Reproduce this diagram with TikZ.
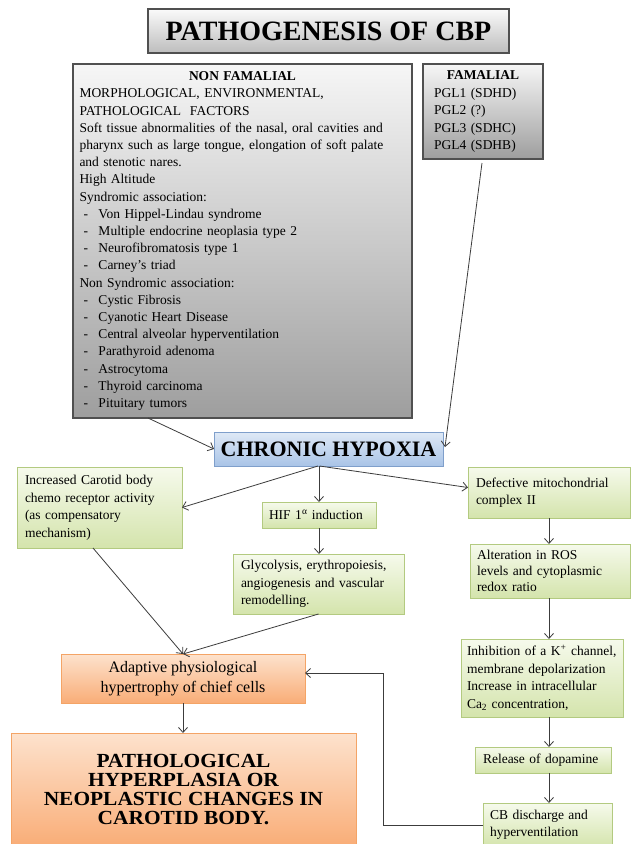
\documentclass[tikz,border=0pt]{standalone}
\usepackage{fontspec}
\setmainfont{Liberation Serif}
\newfontfamily\widefont[FakeStretch=1.07]{Liberation Serif}
\usetikzlibrary{arrows.meta,calc}
\definecolor{graytop}{HTML}{F6F6F6}
\definecolor{graybot}{HTML}{9E9E9E}
\definecolor{grayedge}{HTML}{505050}
\definecolor{titletop}{HTML}{FAFAFA}
\definecolor{titlebot}{HTML}{BDBDBD}
\definecolor{bluetop}{HTML}{DFE9F6}
\definecolor{bluebot}{HTML}{A9C4E7}
\definecolor{blueedge}{HTML}{7F9FCB}
\definecolor{greentop}{HTML}{F6FAEC}
\definecolor{greenbot}{HTML}{D4E4AC}
\definecolor{greenedge}{HTML}{B3CA80}
\definecolor{orangetop}{HTML}{FDE2CD}
\definecolor{orangebot}{HTML}{F9AD77}
\definecolor{orangeedge}{HTML}{F4A466}
\definecolor{arrowcol}{HTML}{3C3C3C}
\newcommand\ditem{\makebox[19pt][l]{\hspace{4pt}-}}
\begin{document}
\begin{tikzpicture}[x=1pt,y=-1pt,
  box/.style={draw, line width=0.8pt, outer sep=0pt, inner ysep=0pt},
  graybox/.style={box, draw=grayedge, line width=1.2pt, top color=graytop, bottom color=graybot,
    align=left, font=\fontsize{13.5}{17.2}\selectfont},
  titlebox/.style={box, draw=grayedge, line width=1.5pt, top color=titletop, bottom color=titlebot,
    font=\fontsize{28}{30}\selectfont\bfseries},
  bluebox/.style={box, draw=blueedge, top color=bluetop, bottom color=bluebot,
    font=\fontsize{22}{24}\selectfont\bfseries},
  greenbox/.style={box, draw=greenedge, top color=greentop, bottom color=greenbot,
    align=left, font=\fontsize{13.5}{17.5}\selectfont},
  orangebox/.style={box, draw=orangeedge, top color=orangetop, bottom color=orangebot, align=center},
  arr/.style={draw=arrowcol, line width=0.8pt, -{Straight Barb[length=5pt,width=9pt]}}
]
\path[use as bounding box] (0,0) rectangle (632,844);
\clip (0,0) rectangle (632,844);
\fill[white] (0,0) rectangle (632,844);

\node[titlebox, minimum width=361pt, minimum height=44pt] (title) at (328.5,31) {PATHOGENESIS OF CBP};

\node[graybox, minimum width=339pt, minimum height=354pt, text width=326pt, inner xsep=6.5pt] (nonfam) at (242.5,241) {%
\makebox[326pt]{\bfseries NON FAMALIAL}\\
\makebox[258pt][s]{MORPHOLOGICAL, ENVIRONMENTAL,}\\
PATHOLOGICAL\ \ FACTORS\\
\makebox[326pt][s]{Soft tissue abnormalities of the nasal, oral cavities and}\\
\makebox[326pt][s]{pharynx such as large tongue, elongation of soft palate}\\
and stenotic nares.\\
High Altitude\\
Syndromic association:\\
\ditem Von Hippel-Lindau syndrome\\
\ditem Multiple endocrine neoplasia type 2\\
\ditem Neurofibromatosis type 1\\
\ditem Carney's triad\\
Non Syndromic association:\\
\ditem Cystic Fibrosis\\
\ditem Cyanotic Heart Disease\\
\ditem Central alveolar hyperventilation\\
\ditem Parathyroid adenoma\\
\ditem Astrocytoma\\
\ditem Thyroid carcinoma\\
\ditem Pituitary tumors};

\node[graybox, minimum width=120pt, minimum height=95pt, text width=98pt, inner xsep=11pt,
  font=\fontsize{13.5}{17.5}\selectfont] (fam) at (483,111.5) {%
\makebox[98pt]{\bfseries FAMALIAL}\\
PGL1 (SDHD)\\
PGL2 (?)\\
PGL3 (SDHC)\\
PGL4 (SDHB)};

\node[bluebox, minimum width=229pt, minimum height=34pt] (hyp) at (328.5,449) {CHRONIC HYPOXIA};

\node[greenbox, minimum width=165pt, minimum height=81pt, text width=149pt, inner xsep=8pt] (inc) at (99.5,507.5)
  {Increased Carotid body\\chemo receptor activity\\(as compensatory\\mechanism)};
\node[greenbox, minimum width=114pt, minimum height=26pt, text width=100pt, inner xsep=7pt] (hif) at (319,515)
  {HIF 1\textsuperscript{α} induction};
\node[greenbox, minimum width=162pt, minimum height=51pt, text width=146pt, inner xsep=8pt,
  font=\fontsize{13.5}{16.5}\selectfont] (def) at (549,492.5)
  {Defective mitochondrial\\complex II};
\node[greenbox, minimum width=171pt, minimum height=60pt, text width=155pt, inner xsep=8pt] (gly) at (318.5,584)
  {Glycolysis, erythropoiesis,\\angiogenesis and vascular\\remodelling.};
\node[greenbox, minimum width=160pt, minimum height=54pt, text width=146pt, inner xsep=7pt,
  font=\fontsize{13.5}{16.2}\selectfont] (alt) at (550,571)
  {Alteration in ROS\\levels and cytoplasmic\\redox ratio};
\node[greenbox, minimum width=162pt, minimum height=78pt, text width=150pt, inner xsep=6pt] (inh) at (542,678)
  {Inhibition of a K\textsuperscript{+} channel,\\membrane depolarization\\Increase in intracellular\\Ca\textsubscript{2} concentration,};
\node[greenbox, minimum width=136pt, minimum height=26pt, text width=120pt, inner xsep=8pt] (rel) at (543,760)
  {Release of dopamine};
\node[greenbox, minimum width=129pt, minimum height=44pt, text width=115pt, inner xsep=7pt] (cb) at (547.5,825)
  {CB discharge and\\hyperventilation};

\node[orangebox, minimum width=244pt, minimum height=49pt, font=\fontsize{16}{19.5}\selectfont] (adapt) at (183,678.5)
  {Adaptive physiological\\hypertrophy of chief cells};
\node[orangebox, minimum width=345pt, minimum height=113pt, font=\widefont\fontsize{20}{19}\selectfont\bfseries] (path) at (183.5,789.5)
  {PATHOLOGICAL\\HYPERPLASIA OR\\NEOPLASTIC CHANGES IN\\CAROTID BODY.};

\coordinate (ret) at (383,825);

\draw[arr] ($(nonfam.south)+(-94.5,0)$) -- (hyp.west);
\draw[arr] ($(fam.south)+(-1,4)$) -- ($(hyp.east)+(2,-2)$);
\draw[arr] ($(hyp.south)+(-10.5,0)$) -- (inc.east);
\draw[arr] (hif.north |- hyp.south) -- (hif.north);
\draw[arr] ($(hyp.south)+(-9,0)$) -- ($(def.west)+(0,-5)$);
\draw[arr] (hif.south) -- (hif.south |- gly.north);
\draw[arr] (def.south) -- (def.south |- alt.north);
\draw[arr] (def.south |- alt.south) -- (def.south |- inh.north);
\draw[arr] (def.south |- inh.south) -- (def.south |- rel.north);
\draw[arr] (def.south |- rel.south) -- (def.south |- cb.north);
\draw[arr] ($(inc.south)+(-6.5,0)$) -- (adapt.north);
\draw[arr] (gly.south) -- (adapt.north);
\draw[arr] (adapt.south) -- (adapt.south |- path.north);
\draw[arr] (cb.west) -- (ret) -- (ret |- {$(adapt.east)+(0,-5.5)$}) -- ($(adapt.east)+(0,-5.5)$);
\end{tikzpicture}
\end{document}
